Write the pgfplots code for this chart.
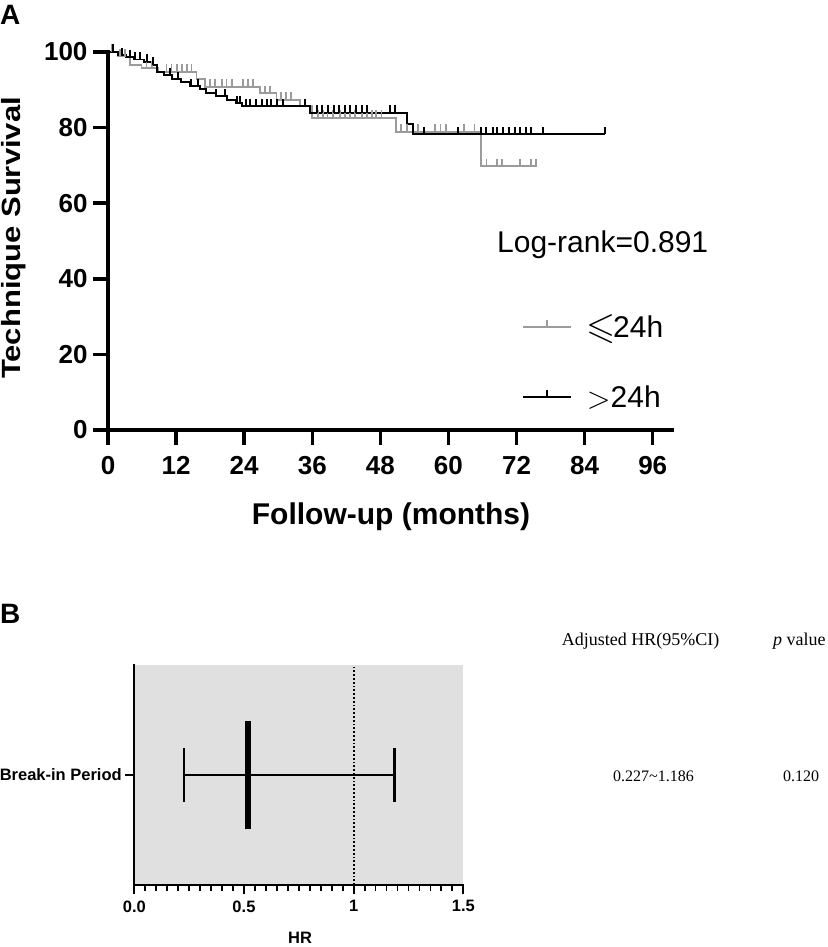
\documentclass[border=0pt]{standalone}
\usepackage{amssymb}
\usepackage{graphicx}
\usepackage{pgfplots}
\pgfplotsset{compat=1.18}
\usepackage{fontspec}
\setmainfont{Liberation Sans}
\newfontfamily\timesfont{Liberation Serif}
\definecolor{kmgray}{RGB}{155,155,155}
\definecolor{bggray}{RGB}{224,224,224}
\pgfdeclareplotmark{cens}{\pgfpathmoveto{\pgfqpoint{0pt}{0pt}}\pgfpathlineto{\pgfqpoint{0pt}{7.5pt}}\pgfusepathqstroke}
\begin{document}
\begin{tikzpicture}
\path[use as bounding box] (0pt,0pt) rectangle (827pt,947pt);
% ---------------- Panel A ----------------
\begin{axis}[
  at={(108pt,517pt)}, anchor=south west, scale only axis,
  width=564pt, height=378pt,
  xmin=0, xmax=99.4, ymin=0, ymax=100,
  axis lines=left, axis line style={-, line width=3.5pt, line cap=rect},
  xtick={0,12,...,96}, ytick={0,20,...,100},
  tick align=outside, major tick length=15pt,
  tick style={black, line width=3.5pt},
  /pgf/number format/assume math mode=true,
  ticklabel style={font=\bfseries\fontsize{26}{26}\selectfont},
  xticklabel style={yshift=-8pt},
  yticklabel style={xshift=-2pt},
  clip=false,
  legend style={at={(0.734,0.31)}, anchor=north west, draw=none, fill=none,
    inner sep=0pt, font=\fontsize{30}{30}\selectfont, row sep=42pt},
  legend cell align=left,
]
\addlegendimage{legend image code/.code={\draw[kmgray,line width=1.8pt] (0pt,0pt)--(48pt,0pt); \draw[kmgray,line width=1.6pt] (24pt,0pt)--(24pt,7pt);}}
\addlegendentry{\hspace*{13pt}\raisebox{-1pt}{\scalebox{1.25}{$\leqslant$}}\hspace{-3pt}24h}
\addlegendimage{legend image code/.code={\draw[black,line width=1.8pt] (0pt,0pt)--(48pt,0pt); \draw[black,line width=1.6pt] (24pt,0pt)--(24pt,7pt);}}
\addlegendentry{\hspace*{13pt}\raisebox{-1pt}{\scalebox{1.25}{$>$}}24h}
% gray curve (<=24h)
\addplot[kmgray, line width=1.9pt, const plot, mark=none, forget plot] coordinates {
(0,100)(1.8,98.8)(3.9,96.6)(5.9,95.7)(8.8,94.8)(15.6,92.8)(17.1,90.8)(26.8,89.1)(29.7,87.3)(33.8,85.8)(35.9,82.6)(50.7,78.9)(65.7,69.8)(75.6,69.8)};
% black curve (>24h)
\addplot[black, line width=1.9pt, const plot, mark=none, forget plot] coordinates {
(0,100)(1.8,99.2)(3.2,98.6)(4.6,98.0)(6.3,97.4)(7.7,96.6)(8.6,94.6)(9.8,93.8)(11.2,92.8)(12.8,92.0)(14.4,91.0)(16.2,90.2)(17.3,89.2)(19.0,88.3)(21.0,87.3)(22.5,86.4)(23.6,85.7)(35.6,83.9)(52.7,81.0)(53.7,78.2)(87.6,78.2)};
% censoring marks
\addplot[kmgray, only marks, mark=cens, mark options={line width=1.8pt, solid}, forget plot] coordinates {
(0.7,100)(2.1,98.8)(3.0,98.8)(6.8,95.7)(7.7,95.7)
(10.3,94.8)(11.2,94.8)(12.1,94.8)(13.0,94.8)(13.9,94.8)(14.7,94.8)
(18.0,90.8)(18.9,90.8)(20.1,90.8)(20.9,90.8)(21.8,90.8)(23.8,90.8)(24.7,90.8)(25.6,90.8)
(27.7,89.1)(28.5,89.1)
(30.5,87.3)(31.4,87.3)(32.3,87.3)
(37.0,82.6)(37.9,82.6)(38.7,82.6)(39.6,82.6)(40.9,82.6)(41.7,82.6)(42.6,82.6)(43.5,82.6)(44.7,82.6)(45.6,82.6)(46.5,82.6)(47.3,82.6)(48.2,82.6)
(51.7,78.9)(52.7,78.9)(54.7,78.9)(57.6,78.9)(58.6,78.9)(59.5,78.9)(62.7,78.9)(64.6,78.9)
(66.7,69.8)(68.5,69.8)(69.5,69.8)(72.6,69.8)(74.6,69.8)(75.5,69.8)};
\addplot[black, only marks, mark=cens, mark options={line width=2pt, solid}, forget plot] coordinates {
(0.9,100)(2.4,99.2)(3.9,98.6)(4.8,98.0)(5.6,98.0)(6.8,97.4)(7.9,96.6)
(10.9,93.8)(12.4,92.8)(14.7,91.0)(15.9,91.0)(19.1,88.3)(20.6,88.3)(22.7,86.4)(23.3,86.4)
(24.4,85.7)(25.0,85.7)(26.1,85.7)(27.1,85.7)(28.0,85.7)(28.8,85.7)(29.8,85.7)(30.8,85.7)(34.7,85.7)
(36.9,83.9)(37.8,83.9)(38.8,83.9)(39.8,83.9)(40.7,83.9)(41.7,83.9)(42.6,83.9)(43.7,83.9)(44.7,83.9)(45.7,83.9)(49.7,83.9)(50.6,83.9)
(55.7,78.2)(61.6,78.2)(65.8,78.2)(66.7,78.2)(67.8,78.2)(68.6,78.2)(69.6,78.2)(70.7,78.2)(71.7,78.2)(72.6,78.2)(73.6,78.2)(74.6,78.2)(76.6,78.2)(87.6,78.2)};
\end{axis}
% ---------------- Panel B ----------------
\begin{axis}[
  at={(134.3pt,62pt)}, anchor=south west, scale only axis,
  width=329pt, height=220pt,
  xmin=0, xmax=1.5, ymin=0, ymax=2,
  axis lines=left, axis line style={-, line width=2.2pt, line cap=rect},
  axis background/.style={fill=bggray},
  xtick={0,0.5,1,1.5}, xticklabels={0.0,0.5,1,1.5},
  minor x tick num=9,
  ytick={1}, yticklabels={Break-in Period},
  tick align=outside, major tick length=9pt, minor tick length=6pt,
  tick style={black, line width=1.8pt},
  ticklabel style={font=\bfseries\fontsize{16.5}{16.5}\selectfont},
  xticklabel style={yshift=-3pt},
  clip=false,
]
\addplot[black, dotted, line width=1.8pt] coordinates {(1,0)(1,2)};
\addplot[black, line width=2.5pt] coordinates {(0.227,1)(1.186,1)};
\addplot[black, line width=2.5pt] coordinates {(0.227,0.755)(0.227,1.245)};
\addplot[black, line width=2.5pt] coordinates {(1.186,0.755)(1.186,1.245)};
\addplot[black, line width=6pt] coordinates {(0.519,0.506)(0.519,1.494)};
\end{axis}
% ---------------- Texts ----------------
\node[anchor=north west, inner sep=0pt, font=\bfseries\fontsize{28}{28}\selectfont] at (0pt,942pt) {A};
\node[anchor=north west, inner sep=0pt, font=\bfseries\fontsize{28}{28}\selectfont] at (0pt,343pt) {B};
\node[inner sep=0pt, font=\bfseries\fontsize{31}{31}\selectfont] at (13.5pt,709pt) {\scalebox{0.85}[1]{\rotatebox{90}{Technique Survival}}};
\node[font=\bfseries\fontsize{30}{30}\selectfont] at (391pt,430pt) {Follow-up (months)};
\node[anchor=west, inner sep=0pt, font=\fontsize{30}{30}\selectfont] at (497pt,702pt) {Log-rank=0.891};
\node[anchor=south, inner sep=0pt, font=\bfseries\fontsize{16.5}{16.5}\selectfont] at (300pt,3pt) {HR};
\node[font=\timesfont\fontsize{18}{18}\selectfont] at (640.5pt,306pt) {Adjusted HR(95\%CI)};
\node[anchor=west, inner sep=0pt, font=\timesfont\fontsize{18}{18}\selectfont] at (773pt,306pt) {\textit{p} value};
\node[font=\timesfont\fontsize{16}{16}\selectfont] at (653.5pt,171pt) {0.227\textasciitilde1.186};
\node[font=\timesfont\fontsize{16}{16}\selectfont] at (801pt,171pt) {0.120};
\end{tikzpicture}
\end{document}
